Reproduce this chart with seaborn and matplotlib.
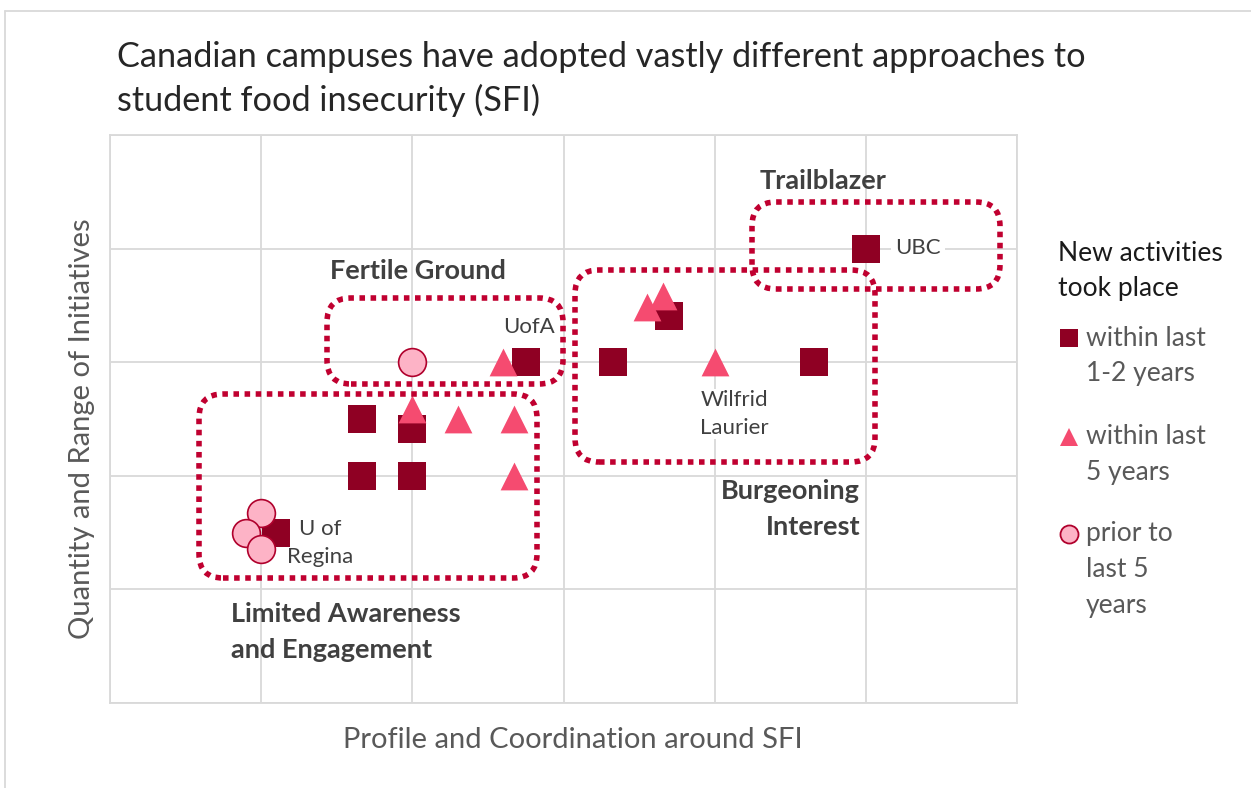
import numpy as np
import pandas as pd
import seaborn as sns
import matplotlib
matplotlib.use("Agg")
import matplotlib.pyplot as plt
from matplotlib.patches import FancyBboxPatch
from matplotlib.lines import Line2D

# ---------------- data ----------------
groups = ["within last\n1-2 years", "within last\n5 years", "prior to\nlast 5\nyears"]

recent_x = [5.0, 2.75, 1.67, 2.0, 1.67, 2.0, 1.10, 3.33, 3.70, 4.66]
recent_y = [4.0, 3.0, 2.5, 2.41, 2.0, 2.0, 1.50, 3.0, 3.41, 3.0]

five_x = [2.60, 2.0, 2.30, 2.67, 2.67, 3.55, 3.66, 4.0]
five_y = [3.0, 2.59, 2.5, 2.5, 2.0, 3.49, 3.58, 3.0]

prior_x = [2.0, 1.0, 0.90, 1.0]
prior_y = [3.0, 1.67, 1.50, 1.36]

campus_names = ["UBC", "UofA", "U of\nRegina", "Wilfrid\nLaurier"]
cluster_names = ["Trailblazer", "Fertile Ground", "Limited Awareness\nand Engagement",
                 "Burgeoning\nInterest"]

title = "Canadian campuses have adopted vastly different approaches to\nstudent food insecurity (SFI)"
xlabel = "Profile and Coordination around SFI"
ylabel = "Quantity and Range of Initiatives"
legend_title = "New activities\ntook place"

df = pd.DataFrame({
    "x": recent_x + five_x + prior_x,
    "y": recent_y + five_y + prior_y,
    "group": [groups[0]] * len(recent_x) + [groups[1]] * len(five_x) + [groups[2]] * len(prior_x),
})

# ---------------- style ----------------
sns.set_style("white")
plt.rcParams["font.family"] = ["Lato", "DejaVu Sans"]

C_SQ = "#8F0023"
C_TRI = "#F54B70"
C_CIRC = "#FDB3C6"
C_CIRC_EDGE = "#B0002C"
C_DOT = "#C00030"
C_GRID = "#D9D9D9"

W, H = 1251, 788
fig = plt.figure(figsize=(W / 100, H / 100), dpi=100)
fig.patch.set_facecolor("white")

L, R, T, B = 110, 1017, 135, 703
ax = fig.add_axes([L / W, 1 - B / H, (R - L) / W, (B - T) / H])

styles = {
    groups[0]: dict(marker="s", color=C_SQ, edgecolor=C_SQ, linewidth=0, zorder=3),
    groups[1]: dict(marker="^", color=C_TRI, edgecolor=C_TRI, linewidth=0, zorder=4),
    groups[2]: dict(marker="o", color=C_CIRC, edgecolor=C_CIRC_EDGE, linewidth=1.2, zorder=5),
}
for g in groups:
    st = styles[g]
    sns.scatterplot(data=df[df["group"] == g], x="x", y="y", ax=ax, s=400,
                    marker=st["marker"], color=st["color"], edgecolor=st["edgecolor"],
                    linewidth=st["linewidth"], zorder=st["zorder"], legend=False)

ax.set_xlim(0, 6)
ax.set_ylim(0, 5)
ax.set_xticks(np.arange(0, 7))
ax.set_yticks(np.arange(0, 6))
ax.set_xticklabels([])
ax.set_yticklabels([])
ax.tick_params(length=0)
ax.grid(True, color=C_GRID, linewidth=1.3)
ax.set_axisbelow(True)
for sp in ax.spines.values():
    sp.set_color(C_GRID)
    sp.set_linewidth(1.3)
ax.set_xlabel("")
ax.set_ylabel("")

# pixel -> data helpers (annotation placement)
ux = (R - L) / 6.0
uy = (B - T) / 5.0
def dx(px):
    return (px - L) / ux
def dy(py):
    return (B - py) / uy

# dotted rounded cluster boxes (pixel extents)
boxes = [(752, 202, 1000, 289), (327, 298, 563, 384), (199, 394, 537, 578), (575, 270, 875, 462)]
rad_px = 24
for (x0, y0, x1, y1) in boxes:
    p = FancyBboxPatch((dx(x0), dy(y1)), dx(x1) - dx(x0), dy(y0) - dy(y1),
                       boxstyle=f"round,pad=0,rounding_size={rad_px / ux}",
                       mutation_aspect=ux / uy, fill=False, edgecolor=C_DOT,
                       linewidth=4.0, linestyle=(0, (1, 1)), capstyle="butt",
                       zorder=6, clip_on=False)
    ax.add_patch(p)

# campus labels
lab_col = "#404040"
fs_lab = 16
ax.text(dx(895), dy(248), campus_names[0], ha="left", va="center", fontsize=fs_lab,
        color=lab_col, zorder=7, bbox=dict(facecolor="white", edgecolor="none", pad=3))
ax.text(dx(555), dy(327), campus_names[1], ha="right", va="center", fontsize=fs_lab,
        color=lab_col, zorder=7)
ax.text(dx(320), dy(543), campus_names[2], ha="center", va="center", fontsize=fs_lab,
        color=lab_col, zorder=7, multialignment="center", linespacing=1.5)
ax.text(dx(734), dy(414), campus_names[3], ha="center", va="center", fontsize=fs_lab,
        color=lab_col, zorder=7, multialignment="center", linespacing=1.5,
        bbox=dict(facecolor="white", edgecolor="none", pad=1))

# cluster labels
cl_col = "#404040"
fs_cl = 19.5
ax.text(dx(823), dy(181), cluster_names[0], ha="center", va="center", fontsize=fs_cl,
        fontweight="bold", color=cl_col, zorder=7)
ax.text(dx(418), dy(271), cluster_names[1], ha="center", va="center", fontsize=fs_cl,
        fontweight="bold", color=cl_col, zorder=7)
ax.text(dx(231), dy(632), cluster_names[2], ha="left", va="center", fontsize=fs_cl,
        fontweight="bold", color=cl_col, zorder=7, linespacing=1.58)
ax.text(dx(860), dy(509), cluster_names[3], ha="right", va="center", fontsize=fs_cl,
        fontweight="bold", color=cl_col, zorder=7, multialignment="right", linespacing=1.58)

def fx(px):
    return px / W
def fy(py):
    return 1 - py / H

# title & axis labels
fig.text(fx(117), fy(79), title, ha="left", va="center", fontsize=24.7, color="#262626",
         linespacing=1.38)
fig.text(fx(573), fy(740), xlabel, ha="center", va="center", fontsize=21, color="#595959")
fig.text(fx(82), fy(429), ylabel, ha="center", va="center", rotation=90, fontsize=21,
         color="#595959")

# legend (manual, multi-line entries)
fig.text(fx(1058), fy(271), legend_title, ha="left", va="center", fontsize=19,
         color="#1a1a1a", linespacing=1.5)
leg_y = [338, 437, 534]
leg_handles = [dict(marker="s", mfc=C_SQ, mec=C_SQ, mew=0),
               dict(marker="^", mfc=C_TRI, mec=C_TRI, mew=0),
               dict(marker="o", mfc=C_CIRC, mec=C_CIRC_EDGE, mew=1.3)]
pitch = 35.5
for g, yy, hd in zip(groups, leg_y, leg_handles):
    fig.add_artist(Line2D([fx(1069)], [fy(yy)], transform=fig.transFigure,
                          linestyle="none", markersize=13, **hd))
    for i, line in enumerate(g.split("\n")):
        fig.text(fx(1086), fy(yy + i * pitch), line, ha="left", va="center",
                 fontsize=19, color="#595959")

# outer frame lines (top and left)
fig.add_artist(Line2D([fx(5), fx(1251)], [fy(11), fy(11)], transform=fig.transFigure,
                      color=C_GRID, linewidth=1.3))
fig.add_artist(Line2D([fx(5), fx(5)], [fy(11), fy(788)], transform=fig.transFigure,
                      color=C_GRID, linewidth=1.3))

fig.savefig("out.png", dpi=100, facecolor="white")
